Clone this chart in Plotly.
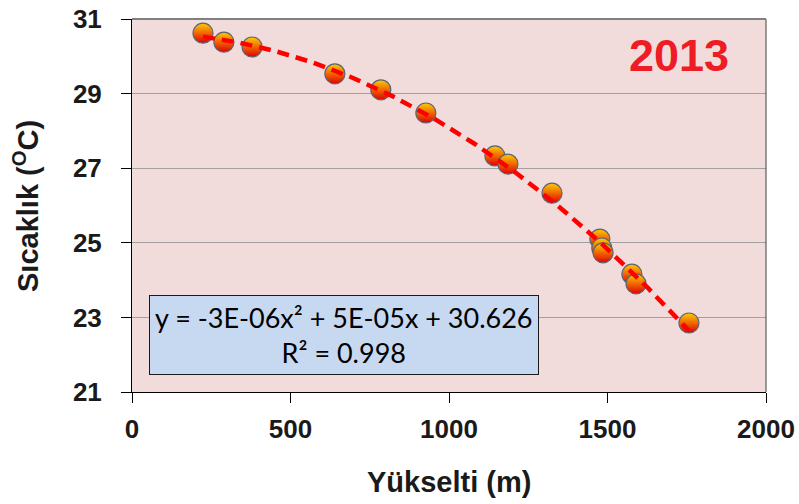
import numpy as np
import plotly.graph_objects as go

elev = [224, 290, 379, 640, 785, 927, 1145, 1186, 1325, 1476, 1482, 1486, 1577, 1590, 1757]
temp = [30.62, 30.38, 30.25, 29.53, 29.10, 28.48, 27.33, 27.11, 26.33, 25.10, 24.86, 24.73, 24.16, 23.90, 22.85]
x_ticks = [0, 500, 1000, 1500, 2000]
y_ticks = [21, 23, 25, 27, 29, 31]
year_label = "2013"
eq_text = "y = -3E-06x² + 5E-05x + 30.626<br>R² = 0.998"
x_title = "Yükselti (m)"
y_title = "Sıcaklık (<sup>O</sup>C)"

coef = np.polyfit(elev, temp, 2)
xf = np.linspace(min(elev), max(elev), 120)
yf = np.polyval(coef, xf)

fig = go.Figure()
fig.add_trace(go.Scatter(
    x=elev, y=temp, mode="markers",
    marker=dict(size=20, color="#ffcc00",
                gradient=dict(type="vertical", color="#e00000"),
                line=dict(color="#5a6675", width=1.2)),
    showlegend=False, hoverinfo="skip"))
fig.add_trace(go.Scatter(
    x=xf, y=yf, mode="lines",
    line=dict(color="#ff0000", width=4.5, dash="12px,7px"),
    showlegend=False, hoverinfo="skip"))

tickfont = dict(family="Liberation Sans", size=26, color="#1a1a1a", weight="bold")
fig.update_layout(
    width=799, height=504,
    margin=dict(l=132, r=33, t=19, b=112),
    paper_bgcolor="white", plot_bgcolor="#f2dcdb",
    font=dict(family="Liberation Sans"),
    xaxis=dict(range=[0, 2000], tickvals=x_ticks, showgrid=False, zeroline=False, automargin=False,
               showline=True, linecolor="#000000", linewidth=1,
               ticks="outside", ticklen=10, tickcolor="#000000", tickfont=tickfont,
               ticklabelstandoff=4, ticklabeloverflow="allow"),
    yaxis=dict(range=[21, 31], tickvals=y_ticks, showgrid=True, gridcolor="#a0a0a0", gridwidth=1,
               zeroline=False, showline=True, linecolor="#000000", linewidth=1, automargin=False,
               ticks="outside", ticklen=10, tickcolor="#000000", tickfont=tickfont,
               ticklabelstandoff=14, ticklabeloverflow="allow"),
    shapes=[
        dict(type="line", xref="paper", yref="paper", x0=1, x1=1, y0=0, y1=1,
             line=dict(color="#404040", width=1)),
        dict(type="line", xref="paper", yref="paper", x0=0, x1=1, y0=1, y1=1,
             line=dict(color="#808080", width=2)),
    ],
    annotations=[
        dict(text="<b>" + year_label + "</b>", xref="paper", yref="paper", x=0.863, y=0.903,
             xanchor="center", yanchor="middle",
             showarrow=False, font=dict(family="Liberation Sans", size=45, color="#ee1c25")),
        dict(text=eq_text, xref="paper", yref="paper", x=0.027, y=0.153, xanchor="left", yanchor="middle",
             showarrow=False, align="center", bgcolor="#c6d9f1", bordercolor="#1a1a1a", borderwidth=1,
             borderpad=5, font=dict(family="Lato", size=27, color="#000000")),
        dict(text="<b>" + x_title + "</b>", xref="paper", yref="paper", x=0.5, y=-0.24,
             xanchor="center", yanchor="middle", showarrow=False,
             font=dict(family="Liberation Sans", size=29, color="#1a1a1a")),
        dict(text="<b>" + y_title + "</b>", xref="paper", yref="paper", x=-0.168, y=0.5,
             xanchor="center", yanchor="middle", textangle=-90, showarrow=False,
             font=dict(family="Liberation Sans", size=29, color="#1a1a1a")),
    ],
)
fig.write_html("out.html", config={"displayModeBar": False},
               post_script="document.body.style.margin='0';document.body.style.overflow='hidden';")
